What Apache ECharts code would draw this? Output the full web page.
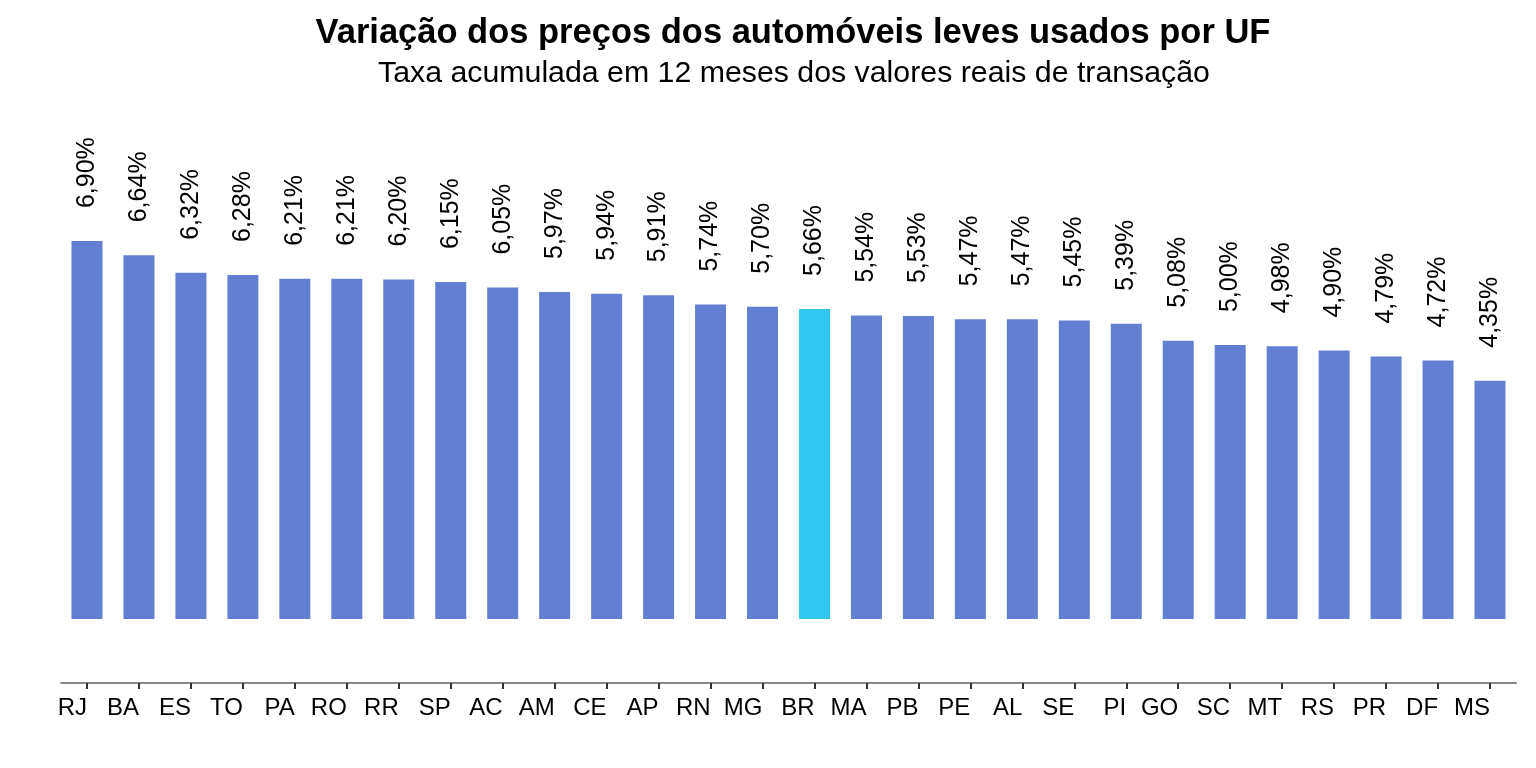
<!DOCTYPE html>
<html>
<head>
<meta charset="utf-8">
<script src="https://cdn.jsdelivr.net/npm/echarts@6/dist/echarts.min.js"></script>
<style>html,body{margin:0;padding:0;background:#fff;}#chart{width:1536px;height:768px;}</style>
</head>
<body>
<div id="chart"></div>
<script>
const categories = ['RJ','BA','ES','TO','PA','RO','RR','SP','AC','AM','CE','AP','RN','MG','BR','MA','PB','PE','AL','SE','PI','GO','SC','MT','RS','PR','DF','MS'];
const values = [6.90,6.64,6.32,6.28,6.21,6.21,6.20,6.15,6.05,5.97,5.94,5.91,5.74,5.70,5.66,5.54,5.53,5.47,5.47,5.45,5.39,5.08,5.00,4.98,4.90,4.79,4.72,4.35];
const highlight = 'BR';
const titleText = 'Variação dos preços dos automóveis leves usados por UF';
const subtitleText = 'Taxa acumulada em 12 meses dos valores reais de transação';

const chart = echarts.init(document.getElementById('chart'));
const font = 'Liberation Sans, Arial, sans-serif';
chart.setOption({
  animation: false,
  title: [
    {text: titleText, left: 788, top: 11, textAlign: 'center',
     textStyle: {fontFamily: font, fontWeight: 'bold', fontSize: 34.5, color: '#000'}},
    {text: subtitleText, left: 789, top: 54, textAlign: 'center',
     textStyle: {fontFamily: font, fontWeight: 'normal', fontSize: 30.3, color: '#000'}}
  ],
  grid: {left: 61, right: 20, top: 130, bottom: 85},
  xAxis: {
    type: 'category',
    data: categories,
    axisLine: {show: true, onZero: false, lineStyle: {color: '#8a8a8a', width: 2}},
    axisTick: {show: true, inside: false, alignWithLabel: true, interval: 0, length: 6, lineStyle: {color: '#333333', width: 2}},
    axisLabel: {fontFamily: font, fontSize: 24, color: '#000', align: 'right', margin: 13, interval: 0}
  },
  yAxis: {type: 'value', min: -1.168, max: 8.927, show: false, splitLine: {show: false}},
  series: [{
    type: 'bar',
    barWidth: 31,
    data: values.map((v, i) => ({value: v, itemStyle: {color: categories[i] === highlight ? '#33C7F0' : '#637FD2'}})),
    label: {
      show: true, position: 'top', rotate: 90, align: 'left', verticalAlign: 'middle', distance: 33,
      fontFamily: font, fontSize: 25, color: '#000',
      formatter: p => p.value.toFixed(2).replace('.', ',') + '%'
    }
  }]
});
</script>
</body>
</html>
